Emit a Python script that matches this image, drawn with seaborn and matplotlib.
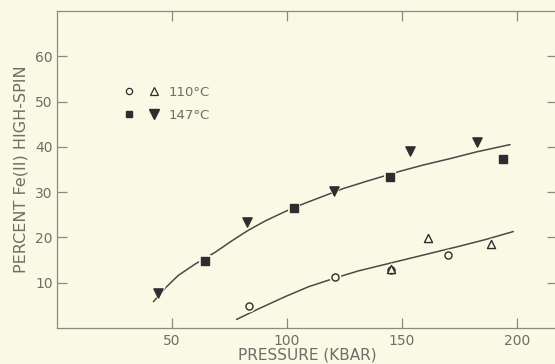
import matplotlib
matplotlib.use("Agg")
import matplotlib.pyplot as plt
from matplotlib.legend_handler import HandlerTuple
from matplotlib.lines import Line2D
import seaborn as sns
import pandas as pd

# ---- data ----
p147_tri = [43.9, 82.6, 120.5, 153.5, 182.4]
v147_tri = [7.7, 23.4, 30.2, 39.0, 41.0]
p147_sq = [64.3, 102.9, 144.6, 193.9]
v147_sq = [14.9, 26.6, 33.3, 37.3]
p110_circ = [83.3, 120.9, 145.2, 169.8]
v110_circ = [4.8, 11.2, 12.8, 16.2]
p110_tri = [145.3, 161.4, 188.7]
v110_tri = [13.0, 19.8, 18.5]

curve147_p = [41.9, 47.0, 52.7, 60.0, 68.7, 75.9, 82.9, 90.4, 99.1, 107.0,
              115.8, 124.5, 134.6, 141.2, 149.1, 159.3, 170.9, 182.5, 197.0]
curve147_v = [5.8, 8.8, 11.6, 14.1, 16.7, 19.2, 21.5, 23.6, 25.7, 27.4,
              29.1, 30.8, 32.4, 33.4, 34.6, 36.0, 37.4, 38.9, 40.5]
curve110_p = [78.1, 87.5, 99.1, 109.3, 121.3, 131.0, 145.5, 160.0, 174.5, 186.1, 198.4]
curve110_v = [1.9, 4.2, 6.9, 9.1, 11.1, 12.6, 14.4, 16.2, 18.0, 19.5, 21.3]

xticks = [50, 100, 150, 200]
yticks = [10, 20, 30, 40, 50, 60]
legend_labels = ["110°C", "147°C"]

BG = "#f9f9e6"
INK = "#2e2e2e"
GRAY = "#6e6e66"

sns.set_theme(style="ticks")
plt.rcParams["font.family"] = ["DejaVu Sans"]
plt.rcParams.update({
    "axes.edgecolor": "#8a8a80",
    "axes.linewidth": 0.9,
    "xtick.color": "#8a8a80",
    "ytick.color": "#8a8a80",
    "xtick.labelcolor": GRAY,
    "ytick.labelcolor": GRAY,
    "xtick.direction": "in",
    "ytick.direction": "in",
    "xtick.major.size": 7,
    "ytick.major.size": 7,
    "xtick.major.width": 0.9,
    "ytick.major.width": 0.9,
})

fig = plt.figure(figsize=(5.55, 3.64), dpi=100, facecolor=BG)
ax = fig.add_axes([57 / 555, 1 - 328 / 364, (557 - 57) / 555, (328 - 11) / 364])
ax.set_facecolor(BG)

df147 = pd.DataFrame({"p": curve147_p, "v": curve147_v})
df110 = pd.DataFrame({"p": curve110_p, "v": curve110_v})
for d in (df147, df110):
    sns.lineplot(data=d, x="p", y="v", ax=ax, color="#4a4a46", lw=1.1,
                 sort=False, estimator=None, zorder=2)

for xs, ys, m, s, fc, ec in [
    (p147_tri, v147_tri, "v", 44, INK, INK),
    (p147_sq, v147_sq, "s", 26, INK, INK),
    (p110_circ, v110_circ, "o", 26, BG, INK),
    (p110_tri, v110_tri, "^", 34, BG, INK),
]:
    d = pd.DataFrame({"p": xs, "v": ys})
    sns.scatterplot(data=d, x="p", y="v", ax=ax, marker=m, s=s * 2.8,
                    color=BG, edgecolor=BG, linewidth=0, zorder=3)
    sns.scatterplot(data=d, x="p", y="v", ax=ax, marker=m, s=s,
                    facecolor=fc, edgecolor=ec, linewidth=1.0, zorder=4)

ax.set_xlim(0, 217.4)
ax.set_ylim(0, 70)
ax.set_xticks(xticks)
ax.set_yticks(yticks)
ax.tick_params(axis="x", top=True, labelsize=10, pad=4)
ax.tick_params(axis="y", right=True, labelsize=10, pad=3)
ax.set_xlabel("PRESSURE (KBAR)", fontsize=11, color=GRAY, labelpad=0)
ax.set_ylabel("PERCENT Fe(II) HIGH-SPIN", fontsize=11.5, color=GRAY, labelpad=5)

h_c = Line2D([], [], ls="none", marker="o", ms=4.5, mfc=BG, mec=INK, mew=0.9)
h_tu = Line2D([], [], ls="none", marker="^", ms=5.5, mfc=BG, mec=INK, mew=0.9)
h_s = Line2D([], [], ls="none", marker="s", ms=4.5, mfc=INK, mec=INK)
h_td = Line2D([], [], ls="none", marker="v", ms=6.5, mfc=INK, mec=INK)
leg = ax.legend([(h_c, h_tu), (h_s, h_td)], legend_labels,
                handler_map={tuple: HandlerTuple(ndivide=None, pad=1.4)},
                loc="upper left", bbox_to_anchor=(0.126, 0.781), frameon=False,
                handlelength=2.4, handletextpad=0.9, labelspacing=0.75,
                fontsize=9.5, borderaxespad=0)
for t in leg.get_texts():
    t.set_color(GRAY)

fig.savefig("out.png", dpi=100, facecolor=BG)
